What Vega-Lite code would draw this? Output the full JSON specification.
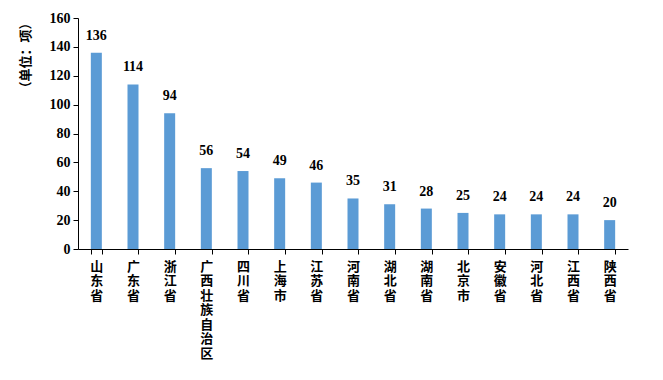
{
  "$schema": "https://vega.github.io/schema/vega-lite/v6.json",
  "autosize": "none",
  "width": 550,
  "height": 231,
  "padding": {"left": 78, "top": 18, "right": 35, "bottom": 131},
  "background": "white",
  "data": {"values": [
    {"province": "山东省", "count": 136},
    {"province": "广东省", "count": 114},
    {"province": "浙江省", "count": 94},
    {"province": "广西壮族自治区", "count": 56},
    {"province": "四川省", "count": 54},
    {"province": "上海市", "count": 49},
    {"province": "江苏省", "count": 46},
    {"province": "河南省", "count": 35},
    {"province": "湖北省", "count": 31},
    {"province": "湖南省", "count": 28},
    {"province": "北京市", "count": 25},
    {"province": "安徽省", "count": 24},
    {"province": "河北省", "count": 24},
    {"province": "江西省", "count": 24},
    {"province": "陕西省", "count": 20}
  ]},
  "encoding": {
    "x": {
      "field": "province", "type": "nominal", "sort": null,
      "scale": {"paddingInner": 0.7, "paddingOuter": 0.35},
      "axis": {
        "title": null,
        "labelAngle": 0,
        "labelExpr": "split(datum.label, '')",
        "labelFont": "Noto Sans CJK SC",
        "labelFontWeight": "bold",
        "labelFontSize": 13,
        "labelLineHeight": 14.5,
        "labelColor": "black",
        "labelBaseline": "top",
        "labelPadding": 6,
        "tickBand": "extent",
        "tickSize": 5,
        "tickColor": "black",
        "domainColor": "black",
        "labelOverlap": false
      }
    },
    "y": {
      "field": "count", "type": "quantitative",
      "scale": {"domain": [0, 160]},
      "axis": {
        "values": [0, 20, 40, 60, 80, 100, 120, 140, 160],
        "grid": false,
        "title": "（单位：项）",
        "titleFont": "Noto Sans CJK SC",
        "titleFontWeight": "bold",
        "titleFontSize": 13,
        "titleColor": "black",
        "titleAngle": -90,
        "titleX": -53,
        "titleY": 37,
        "titleAlign": "center",
        "titleBaseline": "middle",
        "labelFont": "Liberation Serif",
        "labelFontWeight": "bold",
        "labelFontSize": 14,
        "labelColor": "black",
        "labelPadding": 3,
        "tickSize": 5,
        "tickColor": "black",
        "domainColor": "black"
      }
    }
  },
  "layer": [
    {"mark": {"type": "bar", "color": "#5b9bd5"}},
    {
      "mark": {"type": "text", "dy": -17, "font": "Liberation Serif", "fontWeight": "bold", "fontSize": 14, "color": "black"},
      "encoding": {"text": {"field": "count", "type": "quantitative"}}
    }
  ],
  "config": {"view": {"stroke": null}}
}
